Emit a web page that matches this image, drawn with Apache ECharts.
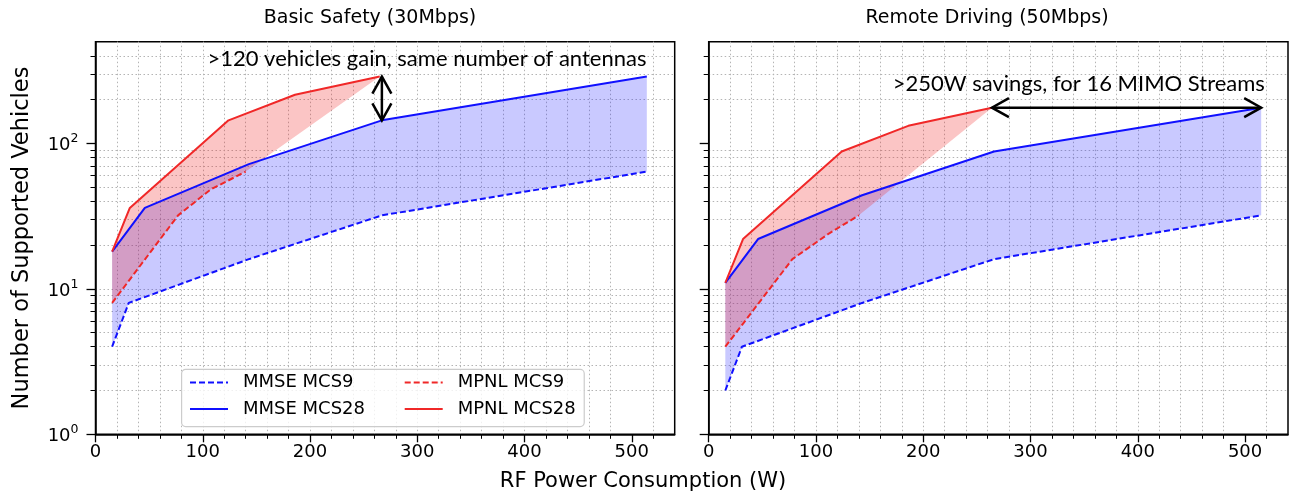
<!DOCTYPE html>
<html><head><meta charset="utf-8">
<script src="https://cdn.jsdelivr.net/npm/echarts@6/dist/echarts.min.js"></script>
<style>html,body{margin:0;padding:0;background:#fff}#c{width:1289px;height:496px}</style>
</head><body><div id="c"></div>
<script>
// ---- tick labels / texts ----
const xTickInterval = 100;
const xMax = 540;
const yMin = 1, yMax = 500;
const yMajorTicks = [1, 10, 100];
const xMajorTicks = [0, 100, 200, 300, 400, 500];
const panelTitles = ['Basic Safety (30Mbps)', 'Remote Driving (50Mbps)'];
const xLabel = 'RF Power Consumption (W)';
const yLabel = 'Number of Supported Vehicles';
const legendOrder = ['MMSE MCS9', 'MPNL MCS9', 'MMSE MCS28', 'MPNL MCS28'];

// ---- Basic Safety (30Mbps) ----
const bs_mmse9_x  = [15.5, 31, 143, 267, 514];
const bs_mmse9_y  = [4, 8, 16, 32, 64];
const bs_mmse28_x = [15.5, 46, 143, 267, 514];
const bs_mmse28_y = [18, 36, 72, 144, 288];
const bs_mpnl9_x  = [15.5, 77, 107, 140];
const bs_mpnl9_y  = [8, 32, 48, 64];
const bs_mpnl28_x = [15.5, 32, 124, 186, 265];
const bs_mpnl28_y = [18, 36, 144, 216, 288];
const bs_arrow = [[267, 144], [267, 288]];
const bs_note = '>120 vehicles gain, same number of antennas';
const bs_note_at = [309, 382];

// ---- Remote Driving (50Mbps) ----
const rd_mmse9_x  = [15.5, 31, 143, 266, 515];
const rd_mmse9_y  = [2, 4, 8, 16, 32];
const rd_mmse28_x = [15.5, 46, 143, 266, 515];
const rd_mmse28_y = [11, 22, 44, 88, 176];
const rd_mpnl9_x  = [15.5, 78, 112, 140];
const rd_mpnl9_y  = [4, 16, 24, 32];
const rd_mpnl28_x = [15.5, 32, 124, 186, 264];
const rd_mpnl28_y = [11, 22, 88, 132, 176];
const rd_arrow = [[264, 176], [515, 176]];
const rd_note = '>250W savings, for 16 MIMO Streams';
const rd_note_at = [345, 256];

const BLUE = '#1010ff', RED = '#f02828';
const FONT = 'DejaVu Sans';
const zip = (xs, ys) => xs.map((x, i) => [x, ys[i]]);

function fillSeries(idx, ux, uy, lx, ly, color) {
  return {
    type: 'custom', xAxisIndex: idx, yAxisIndex: idx, silent: true, z: 1,
    data: [[100, 10]],
    renderItem: (params, api) => {
      const pts = [];
      for (let i = 0; i < ux.length; i++) pts.push(api.coord([ux[i], uy[i]]));
      for (let i = lx.length - 1; i >= 0; i--) pts.push(api.coord([lx[i], ly[i]]));
      return { type: 'polygon', shape: { points: pts }, style: { fill: color } };
    }
  };
}
function lineSeries(idx, name, xs, ys, color, dashed) {
  return {
    type: 'line', name, xAxisIndex: idx, yAxisIndex: idx, z: 3,
    data: zip(xs, ys), symbol: 'none', animation: false,
    lineStyle: { color, width: 2, type: dashed ? [6, 3] : 'solid' },
    itemStyle: { color }
  };
}
function noteSeries(idx, arrow, text, at) {
  return {
    type: 'custom', xAxisIndex: idx, yAxisIndex: idx, silent: true, z: 5,
    data: [[100, 10]],
    renderItem: (params, api) => {
      const a = api.coord(arrow[0]), b = api.coord(arrow[1]);
      const dx = b[0] - a[0], dy = b[1] - a[1];
      const len = Math.hypot(dx, dy), ux = dx / len, uy = dy / len;
      const nx = -uy, ny = ux, L = 17, W = 9.5;
      const head = (t, sx, sy) => ({
        type: 'polyline',
        shape: { points: [[t[0] - sx * L + nx * W, t[1] - sy * L + ny * W], t, [t[0] - sx * L - nx * W, t[1] - sy * L - ny * W]] },
        style: { stroke: '#000', lineWidth: 2.5, fill: null }
      });
      const p = api.coord(at);
      return {
        type: 'group', children: [
          { type: 'line', shape: { x1: a[0], y1: a[1], x2: b[0], y2: b[1] }, style: { stroke: '#000', lineWidth: 2.5 } },
          head(b, ux, uy), head(a, -ux, -uy),
          { type: 'text', x: p[0], y: p[1], style: { text, fill: '#000', font: '22px Lato', align: 'center', verticalAlign: 'middle' } }
        ]
      };
    }
  };
}

const gridLine = { showMinLine: false, showMaxLine: false, lineStyle: { color: '#b4b4b4', type: [1.5, 2.5], width: 1 } };
function xAxis(idx) {
  return {
    type: 'value', gridIndex: idx, min: 0, max: xMax, interval: xTickInterval,
    axisLine: { show: true, onZero: false, lineStyle: { color: '#000', width: 1.5 } },
    axisTick: { show: true, length: 8, customValues: xMajorTicks, lineStyle: { color: '#000', width: 1.3 } },
    minorTick: { show: true, splitNumber: 5, length: 4.5, lineStyle: { color: '#000', width: 1 } },
    splitLine: { show: true, ...gridLine },
    minorSplitLine: { show: true, ...gridLine },
    axisLabel: { show: true, showMaxLabel: false, margin: 9, color: '#000', fontFamily: FONT, fontSize: 18 }
  };
}
function yAxis(idx, labels) {
  return {
    type: 'log', logBase: 10, gridIndex: idx, min: yMin, max: yMax,
    axisLine: { show: true, onZero: false, lineStyle: { color: '#000', width: 1.5 } },
    axisTick: { show: true, length: 9, customValues: yMajorTicks, lineStyle: { color: '#000', width: 1.3 } },
    minorTick: { show: true, splitNumber: 9, length: 5, lineStyle: { color: '#000', width: 1 } },
    splitLine: { show: true, ...gridLine },
    minorSplitLine: { show: true, ...gridLine },
    axisLabel: {
      show: labels, showMaxLabel: false, margin: 17, color: '#000',
      formatter: v => {
        const e = Math.round(Math.log10(v));
        if (Math.abs(Math.pow(10, e) - v) > 1e-6) return '';
        return '{b|10}{s|' + e + '}';
      },
      rich: {
        b: { fontFamily: FONT, fontSize: 18, color: '#000', lineHeight: 22, verticalAlign: 'bottom' },
        s: { fontFamily: FONT, fontSize: 12.5, color: '#000', lineHeight: 14, verticalAlign: 'top' }
      }
    }
  };
}

const option = {
  animation: false,
  backgroundColor: '#fff',
  grid: [
    { left: 95.5, top: 41.7, width: 579.2, height: 392.6, show: true, borderColor: '#000', borderWidth: 1.5 },
    { left: 708.7, top: 41.7, width: 579.3, height: 392.6, show: true, borderColor: '#000', borderWidth: 1.5 }
  ],
  xAxis: [xAxis(0), xAxis(1)],
  yAxis: [yAxis(0, true), yAxis(1, false)],
  legend: {
    data: legendOrder, left: 181.6, top: 369.4, width: 420, orient: 'horizontal',
    padding: [4, 8.5, 8.5, 7.4], itemGap: 8.7, itemWidth: 38, itemHeight: 14,
    borderColor: '#cccccc', borderWidth: 1.2, borderRadius: 4,
    backgroundColor: 'rgba(255,255,255,0.8)', selectedMode: false,
    itemStyle: { opacity: 0, borderWidth: 0 },
    formatter: n => (n.indexOf('MMSE') === 0 ? '{a|' + n + '}' : '{b|' + n + '}'),
    textStyle: {
      fontFamily: FONT, fontSize: 18, color: '#000', padding: [0, 0, 0, 10],
      rich: { a: { width: 152, fontFamily: FONT, fontSize: 18, lineHeight: 20 }, b: { fontFamily: FONT, fontSize: 18, lineHeight: 20 } }
    }
  },
  graphic: [
    { type: 'text', x: 370, y: 18, style: { text: panelTitles[0], font: '19px "DejaVu Sans"', fill: '#000', align: 'center', verticalAlign: 'middle', textAlign: 'center', textVerticalAlign: 'middle' } },
    { type: 'text', x: 987, y: 18, style: { text: panelTitles[1], font: '19px "DejaVu Sans"', fill: '#000', align: 'center', verticalAlign: 'middle', textAlign: 'center', textVerticalAlign: 'middle' } },
    { type: 'text', x: 643, y: 482, style: { text: xLabel, font: '21px "DejaVu Sans"', fill: '#000', align: 'center', verticalAlign: 'middle', textAlign: 'center', textVerticalAlign: 'middle' } },
    { type: 'text', x: 22, y: 238, rotation: Math.PI / 2, style: { text: yLabel, font: '22.5px "DejaVu Sans"', fill: '#000', align: 'center', verticalAlign: 'middle', textAlign: 'center', textVerticalAlign: 'middle' } }
  ],
  series: [
    fillSeries(0, bs_mmse28_x, bs_mmse28_y, bs_mmse9_x, bs_mmse9_y, 'rgba(20,20,255,0.23)'),
    fillSeries(0, bs_mpnl28_x, bs_mpnl28_y, bs_mpnl9_x, bs_mpnl9_y, 'rgba(240,30,30,0.26)'),
    lineSeries(0, 'MMSE MCS9', bs_mmse9_x, bs_mmse9_y, BLUE, true),
    lineSeries(0, 'MMSE MCS28', bs_mmse28_x, bs_mmse28_y, BLUE, false),
    lineSeries(0, 'MPNL MCS9', bs_mpnl9_x, bs_mpnl9_y, RED, true),
    lineSeries(0, 'MPNL MCS28', bs_mpnl28_x, bs_mpnl28_y, RED, false),
    noteSeries(0, bs_arrow, bs_note, bs_note_at),
    fillSeries(1, rd_mmse28_x, rd_mmse28_y, rd_mmse9_x, rd_mmse9_y, 'rgba(20,20,255,0.23)'),
    fillSeries(1, rd_mpnl28_x, rd_mpnl28_y, rd_mpnl9_x, rd_mpnl9_y, 'rgba(240,30,30,0.26)'),
    lineSeries(1, 'MMSE MCS9', rd_mmse9_x, rd_mmse9_y, BLUE, true),
    lineSeries(1, 'MMSE MCS28', rd_mmse28_x, rd_mmse28_y, BLUE, false),
    lineSeries(1, 'MPNL MCS9', rd_mpnl9_x, rd_mpnl9_y, RED, true),
    lineSeries(1, 'MPNL MCS28', rd_mpnl28_x, rd_mpnl28_y, RED, false),
    noteSeries(1, rd_arrow, rd_note, rd_note_at)
  ]
};
const chart = echarts.init(document.getElementById('c'), null, { renderer: 'canvas' });
chart.setOption(option);
</script></body></html>
